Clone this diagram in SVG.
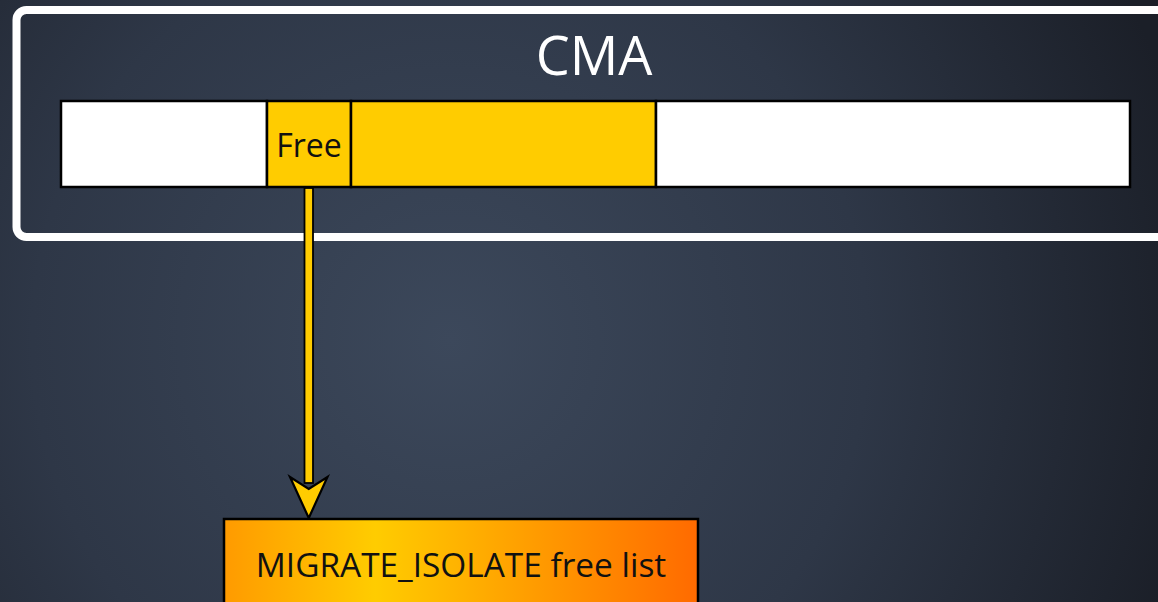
<svg xmlns="http://www.w3.org/2000/svg" width="1158" height="602" viewBox="0 0 1158 602">
  <defs>
    <radialGradient id="bg" cx="450" cy="340" r="760" gradientUnits="userSpaceOnUse">
      <stop offset="0" stop-color="#3c485b"/>
      <stop offset="0.55" stop-color="#2e3747"/>
      <stop offset="1" stop-color="#1b1f28"/>
    </radialGradient>
    <linearGradient id="orange" x1="223" y1="0" x2="699" y2="0" gradientUnits="userSpaceOnUse">
      <stop offset="0" stop-color="#ff9a00"/>
      <stop offset="0.32" stop-color="#ffcc00"/>
      <stop offset="1" stop-color="#ff6a00"/>
    </linearGradient>
    <style>
      .cell { stroke: #000; stroke-width: 2.5; }
      .free { fill: #ffcc00; }
      .empty { fill: #ffffff; }
      .label { font-family: "Open Sans", "Noto Sans", sans-serif; fill: #111; text-anchor: middle; }
    </style>
  </defs>

  <rect width="1158" height="602" fill="url(#bg)"/>

  <!-- CMA region frame -->
  <g id="cma">
    <rect x="16.5" y="10" width="1160" height="227" rx="10" fill="none" stroke="#ffffff" stroke-width="8"/>
    <text x="594" y="75" font-family="'Open Sans', 'Noto Sans', sans-serif" font-size="54" fill="#ffffff" text-anchor="middle">CMA</text>
  </g>

  <!-- memory blocks -->
  <g id="block-left"><rect class="cell empty" x="61" y="101" width="206" height="86"/></g>
  <g id="block-free">
    <rect class="cell free" x="267" y="101" width="84" height="86"/>
    <text class="label" x="309" y="157" font-size="32">Free</text>
  </g>
  <g id="block-used"><rect class="cell free" x="351" y="101" width="305" height="86"/></g>
  <g id="block-right"><rect class="cell empty" x="656" y="101" width="474" height="86"/></g>

  <!-- connectors -->
  <g id="connectors">
    <rect x="304.5" y="188" width="8.5" height="295" fill="#ffcc00" stroke="#000" stroke-width="1.8"/>
    <polygon points="290,477 308.75,518 327.5,477 308.75,489" fill="#ffcc00" stroke="#000" stroke-width="2.2" stroke-linejoin="miter"/>
  </g>

  <!-- free list -->
  <g id="free-list">
    <rect x="224" y="519" width="474" height="100" fill="url(#orange)" stroke="#000" stroke-width="2.5"/>
    <text class="label" x="461" y="577" font-size="33.4">MIGRATE_ISOLATE free list</text>
  </g>
</svg>
